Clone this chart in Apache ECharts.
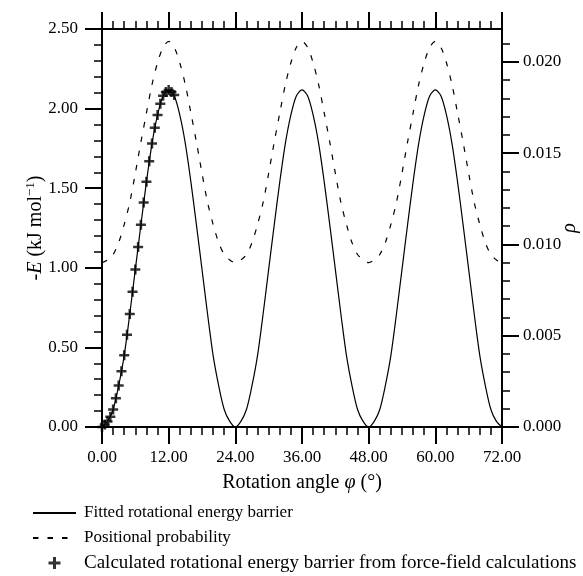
<!DOCTYPE html>
<html>
<head>
<meta charset="utf-8">
<script src="https://cdn.jsdelivr.net/npm/echarts@6/dist/echarts.min.js"></script>
<style>
html, body { margin: 0; padding: 0; background: #fff; }
#chart { width: 583px; height: 576px; }
</style>
</head>
<body>
<div id="chart"></div>
<script>
// rotation angle (deg) for the fitted curves
const angles = [0, 1, 2, 3, 4, 5, 6, 7, 8, 9, 10, 11, 12, 13, 14, 15, 16, 17, 18, 19, 20, 21, 22, 23,
  24, 25, 26, 27, 28, 29, 30, 31, 32, 33, 34, 35, 36, 37, 38, 39, 40, 41, 42, 43, 44, 45, 46, 47,
  48, 49, 50, 51, 52, 53, 54, 55, 56, 57, 58, 59, 60, 61, 62, 63, 64, 65, 66, 67, 68, 69, 70, 71, 72]

// fitted rotational energy barrier, -E (kJ/mol)
const energy = [0, 0.035, 0.11, 0.26, 0.45, 0.71, 0.99, 1.27, 1.54, 1.78, 1.96, 2.08, 2.117, 2.08, 1.96, 1.78, 1.54, 1.27, 0.99, 0.71, 0.45, 0.26, 0.11, 0.035,
  0, 0.035, 0.11, 0.26, 0.45, 0.71, 0.99, 1.27, 1.54, 1.78, 1.96, 2.08, 2.117, 2.08, 1.96, 1.78, 1.54, 1.27, 0.99, 0.71, 0.45, 0.26, 0.11, 0.035,
  0, 0.035, 0.11, 0.26, 0.45, 0.71, 0.99, 1.27, 1.54, 1.78, 1.96, 2.08, 2.117, 2.08, 1.96, 1.78, 1.54, 1.27, 0.99, 0.71, 0.45, 0.26, 0.11, 0.035, 0]

// positional probability (rho)
const probability = [0.009, 0.00915, 0.00945, 0.0101, 0.0111, 0.0123, 0.0139, 0.0156, 0.0172, 0.01875, 0.01995, 0.0208, 0.02112, 0.0208, 0.01995, 0.01875, 0.0172, 0.0156, 0.0139, 0.0123, 0.0111, 0.0101, 0.00945, 0.00915,
  0.009, 0.00915, 0.00945, 0.0101, 0.0111, 0.0123, 0.0139, 0.0156, 0.0172, 0.01875, 0.01995, 0.0208, 0.02112, 0.0208, 0.01995, 0.01875, 0.0172, 0.0156, 0.0139, 0.0123, 0.0111, 0.0101, 0.00945, 0.00915,
  0.009, 0.00915, 0.00945, 0.0101, 0.0111, 0.0123, 0.0139, 0.0156, 0.0172, 0.01875, 0.01995, 0.0208, 0.02112, 0.0208, 0.01995, 0.01875, 0.0172, 0.0156, 0.0139, 0.0123, 0.0111, 0.0101, 0.00945, 0.00915, 0.009]

// force-field points
const ffAngles = [0, 0.5, 1, 1.5, 2, 2.5, 3, 3.5, 4, 4.5, 5, 5.5, 6, 6.5, 7, 7.5, 8, 8.5, 9, 9.5, 10, 10.5, 11, 11.5, 12, 12.5, 13]
const ffEnergy = [0, 0.015, 0.035, 0.065, 0.11, 0.18, 0.26, 0.35, 0.45, 0.58, 0.71, 0.85, 0.99, 1.13, 1.27, 1.41, 1.54, 1.67, 1.78, 1.88, 1.96, 2.03, 2.08, 2.105, 2.117, 2.105, 2.085]

// ticks
const angleTicks = [0, 12, 24, 36, 48, 60, 72]
const energyTicks = [0, 0.5, 1, 1.5, 2, 2.5]
const probTicks = [0, 0.005, 0.01, 0.015, 0.02]
const probMinorTicks = [0, 0.001, 0.002, 0.003, 0.004, 0.005, 0.006, 0.007, 0.008, 0.009, 0.01,
  0.011, 0.012, 0.013, 0.014, 0.015, 0.016, 0.017, 0.018, 0.019, 0.02, 0.021]

const nameFit = 'Fitted rotational energy barrier'
const nameProb = 'Positional probability'
const nameFF = 'Calculated rotational energy barrier from force-field calculations'

const serif = 'Liberation Serif'
const black = '#000'
const plus = 'path://M3,0H5V3H8V5H5V8H3V5H0V3H3Z'

const labelFont = { color: black, fontFamily: serif, fontSize: 17 }
const rich = {
  n: { fontFamily: serif, fontSize: 20, color: black, lineHeight: 24 },
  i: { fontFamily: serif, fontSize: 20, color: black, fontStyle: 'italic', lineHeight: 24 },
  s: { fontFamily: serif, fontSize: 13, color: black, verticalAlign: 'top' }
}

function minorAxis(extra) {
  return Object.assign({
    type: 'value',
    axisLine: { show: false, onZero: false },
    axisTick: { length: 8, lineStyle: { color: black, width: 1.5 } },
    axisLabel: { show: false },
    splitLine: { show: false }
  }, extra)
}

const chart = echarts.init(document.getElementById('chart'))
const option = {
  animation: false,
  backgroundColor: '#fff',
  textStyle: { fontFamily: serif },
  grid: { left: 102, right: 81, top: 29, bottom: 149, outerBoundsMode: 'none' },
  legend: {
    orient: 'vertical',
    left: 32,
    top: 503,
    padding: 0,
    itemWidth: 43,
    itemHeight: 12,
    itemGap: 5,
    selectedMode: false,
    textStyle: { fontFamily: serif, fontSize: 17, color: black, lineHeight: 20, padding: [0, 0, 0, 3] },
    data: [
      { name: nameFit, itemStyle: { opacity: 0 } },
      { name: nameProb, itemStyle: { opacity: 0 } },
      { name: nameFF, icon: plus, textStyle: { fontSize: 19 } }
    ]
  },
  xAxis: [
    {
      type: 'value',
      position: 'bottom',
      min: 0,
      max: 72,
      interval: 12,
      axisLine: { onZero: false, lineStyle: { color: black, width: 2 } },
      axisTick: { length: 17, customValues: angleTicks, lineStyle: { color: black, width: 2 } },
      axisLabel: Object.assign({ customValues: angleTicks, margin: 22, formatter: v => v.toFixed(2) }, labelFont),
      splitLine: { show: false },
      name: '{n|Rotation angle }{i|φ}{n| (°)}',
      nameLocation: 'middle',
      nameGap: 44,
      nameMoveOverlap: false,
      nameTextStyle: { rich }
    },
    minorAxis({ position: 'bottom', min: 0, max: 72, interval: 2 }),
    {
      type: 'value',
      position: 'top',
      min: 0,
      max: 72,
      interval: 12,
      axisLine: { onZero: false, lineStyle: { color: black, width: 2 } },
      axisTick: { length: 17, customValues: angleTicks, lineStyle: { color: black, width: 2 } },
      axisLabel: { show: false },
      splitLine: { show: false }
    },
    minorAxis({ position: 'top', min: 0, max: 72, interval: 2 })
  ],
  yAxis: [
    {
      type: 'value',
      position: 'left',
      min: 0,
      max: 2.5,
      interval: 0.5,
      axisLine: { onZero: false, lineStyle: { color: black, width: 2 } },
      axisTick: { length: 17, customValues: energyTicks, lineStyle: { color: black, width: 2 } },
      axisLabel: Object.assign({ customValues: energyTicks, margin: 24, formatter: v => v.toFixed(2) }, labelFont),
      splitLine: { show: false },
      name: '{n|-}{i|E}{n| (kJ mol}{s|−1}{n|)}',
      nameLocation: 'middle',
      nameGap: 54,
      nameMoveOverlap: false,
      nameTextStyle: { rich }
    },
    minorAxis({ position: 'left', min: 0, max: 2.5, interval: 0.1 }),
    {
      type: 'value',
      position: 'right',
      min: 0,
      max: 0.0218,
      axisLine: { onZero: false, lineStyle: { color: black, width: 2 } },
      axisTick: { length: 17, customValues: probTicks, lineStyle: { color: black, width: 2 } },
      axisLabel: Object.assign({ customValues: probTicks, margin: 21, formatter: v => v.toFixed(3) }, labelFont),
      splitLine: { show: false },
      name: '{i|ρ}',
      nameLocation: 'middle',
      nameGap: 56,
      nameMoveOverlap: false,
      nameTextStyle: { rich }
    },
    minorAxis({
      position: 'right',
      min: 0,
      max: 0.0218,
      axisTick: { length: 8, customValues: probMinorTicks, lineStyle: { color: black, width: 1.5 } }
    })
  ],
  series: [
    {
      name: nameFit,
      type: 'line',
      xAxisIndex: 0,
      yAxisIndex: 0,
      data: angles.map((a, i) => [a, energy[i]]),
      symbol: 'none',
      smooth: 0.3,
      lineStyle: { color: black, width: 1.2 },
      itemStyle: { color: black },
      z: 3
    },
    {
      name: nameProb,
      type: 'line',
      xAxisIndex: 0,
      yAxisIndex: 2,
      data: angles.map((a, i) => [a, probability[i]]),
      symbol: 'none',
      smooth: 0.3,
      lineStyle: { color: black, width: 1.2, type: [5.5, 9] },
      itemStyle: { color: black },
      z: 2
    },
    {
      name: nameFF,
      type: 'scatter',
      xAxisIndex: 0,
      yAxisIndex: 0,
      data: ffAngles.map((a, i) => [a, ffEnergy[i]]),
      symbol: plus,
      symbolSize: 10,
      symbolKeepAspect: true,
      itemStyle: { color: black },
      z: 4
    }
  ]
}
option && chart.setOption(option)
</script>
</body>
</html>
